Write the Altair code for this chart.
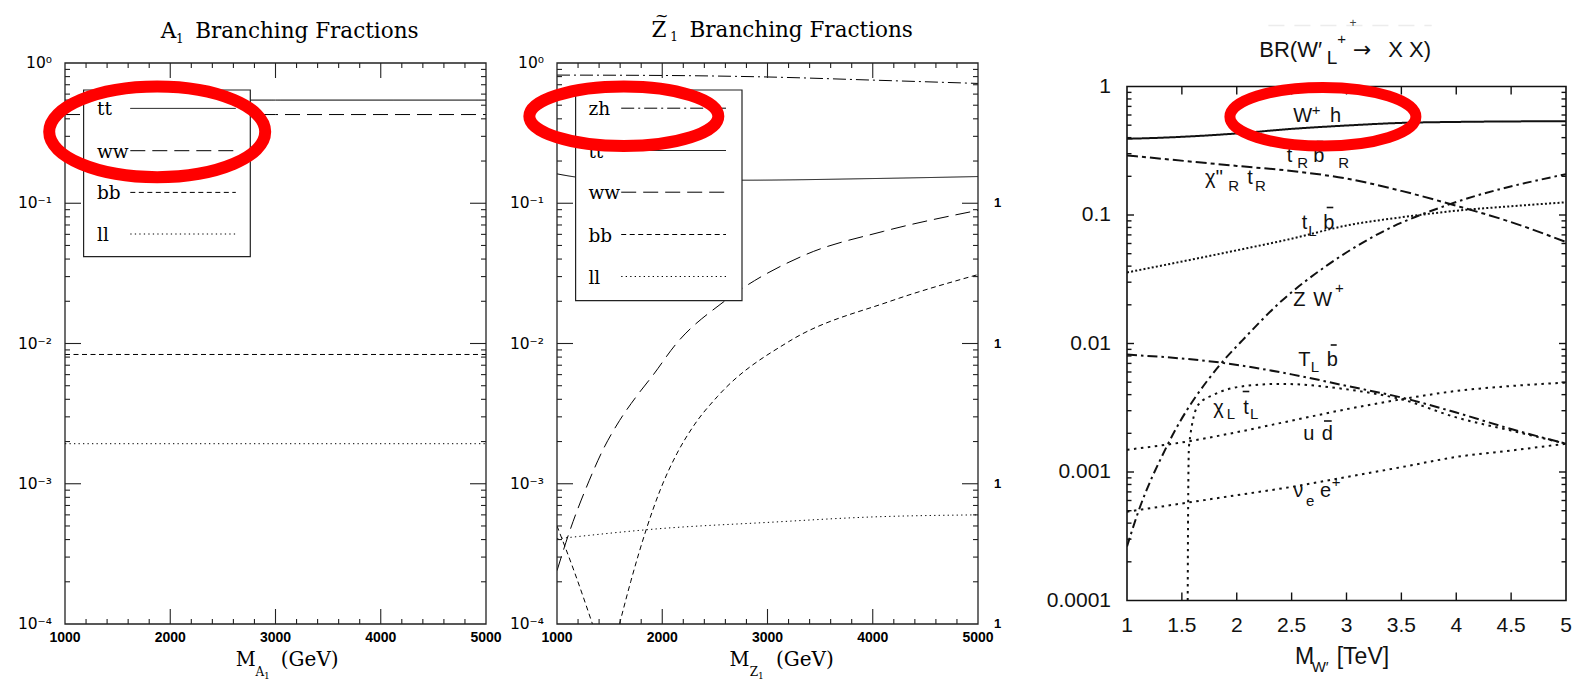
import altair as alt
import pandas as pd

# ---------------- values ----------------
# Panel 1 : A1 branching fractions (flat lines)
A1_MASS = [1000, 3000, 5000]
A1_TT = [0.544, 0.544, 0.544]
A1_WW = [0.429, 0.429, 0.429]
A1_BB = [0.00835, 0.00835, 0.00835]
A1_LL = [0.00193, 0.00193, 0.00193]

# Panel 2 : Z1 branching fractions
Z1_ZH_MASS = [1000, 2000, 3000, 4000, 5000]
Z1_ZH = [0.82, 0.815, 0.795, 0.755, 0.715]
Z1_TT_MASS = [1000, 1200, 1500, 2000, 2750, 4000, 5000]
Z1_TT = [0.162, 0.153, 0.148, 0.146, 0.146, 0.150, 0.155]
Z1_WW_MASS = [1000, 1112, 1305, 1434, 1594, 1755, 1916, 2125, 2590, 3362, 4100, 5000]
Z1_WW = [0.00024, 0.00044, 0.00105, 0.00173, 0.00282, 0.00420, 0.0060, 0.0098, 0.020, 0.043, 0.063, 0.089]
Z1_BB_LOW_MASS = [1000, 1170, 1337]
Z1_BB_LOW = [0.00050, 0.00023, 0.00010]
Z1_BB_HIGH_MASS = [1594, 1700, 1851, 1980, 2141, 2300, 2526, 3200, 4165, 5000]
Z1_BB_HIGH = [0.00010, 0.00020, 0.00048, 0.00090, 0.00165, 0.0026, 0.0042, 0.0103, 0.020, 0.031]
Z1_LL_MASS = [1000, 2000, 3000, 4000, 5000]
Z1_LL = [0.000405, 0.00048, 0.00053, 0.00058, 0.00060]

# Panel 3 : BR(W'_L+ -> X X), mass in TeV
W_WH_MASS = [1.0, 1.3, 2.0, 2.5, 3.0, 3.5, 4.0, 5.0]
W_WH = [0.392, 0.399, 0.431, 0.468, 0.497, 0.521, 0.530, 0.537]
W_CHIR_MASS = [1.0, 2.0, 2.5, 3.0, 3.5, 4.0, 4.5, 5.0]
W_CHIR = [0.291, 0.241, 0.220, 0.192, 0.154, 0.118, 0.088, 0.0616]
W_TLB_MASS = [1.0, 2.0, 2.5, 3.0, 3.5, 4.0, 4.5, 5.0]
W_TLB = [0.0357, 0.0531, 0.0654, 0.0828, 0.096, 0.108, 0.117, 0.1255]
W_ZW_MASS = [1.0, 1.098, 1.359, 1.864, 2.043, 2.402, 2.826, 3.38, 3.90, 5.0]
W_ZW = [0.000263, 0.000477, 0.00156, 0.0071, 0.0104, 0.0212, 0.0407, 0.078, 0.118, 0.208]
W_TLBIG_MASS = [1.0, 1.864, 2.5, 3.0, 3.5, 4.0, 4.5, 5.0]
W_TLBIG = [0.0082, 0.00708, 0.00575, 0.00468, 0.0038, 0.0029, 0.00216, 0.00166]
W_CHIL_MASS = [1.553, 1.557, 1.565, 1.652, 1.793, 2.076, 2.40, 3.0, 3.5, 4.0, 4.5, 5.0]
W_CHIL = [0.0001, 0.00054, 0.0016, 0.00336, 0.0040, 0.00467, 0.00485, 0.0044, 0.00368, 0.00266, 0.0021, 0.00166]
W_UD_MASS = [1.0, 1.5, 2.0, 2.5, 3.0, 3.5, 4.0, 4.5, 5.0]
W_UD = [0.00149, 0.00170, 0.00204, 0.00251, 0.00308, 0.00368, 0.00427, 0.00467, 0.00496]
W_NUE_MASS = [1.0, 1.5, 2.0, 2.5, 3.0, 3.5, 4.0, 4.5, 5.0]
W_NUE = [0.000491, 0.000569, 0.00066, 0.000766, 0.000915, 0.00109, 0.00131, 0.00147, 0.00166]

# tick values and tick labels
GEV_LABELS = [1000, 2000, 3000, 4000, 5000]
GEV_MAJOR = [2000, 3000, 4000]
GEV_MINOR = [v for v in range(1200, 5000, 200) if v % 1000 != 0]
DECADES = [1e-4, 1e-3, 1e-2, 1e-1, 1.0]
DECADE_POW_LABELS = ["10\u207b\u2074", "10\u207b\u00b3", "10\u207b\u00b2", "10\u207b\u00b9", "10\u2070"]
DECADE_DEC_LABELS = ["0.0001", "0.001", "0.01", "0.1", "1"]
DEC_MAJOR = [1e-3, 1e-2, 1e-1]
DEC_MINOR = [m * 10.0 ** k for k in range(-4, 0) for m in range(2, 10)]
TEV_LABELS = [1, 1.5, 2, 2.5, 3, 3.5, 4, 4.5, 5]
TEV_LABEL_TEXT = ["1", "1.5", "2", "2.5", "3", "3.5", "4", "4.5", "5"]
TEV_MAJOR = [1.5, 2, 2.5, 3, 3.5, 4, 4.5]

SERIF = "DejaVu Serif"
SANS = "Liberation Sans"
ONE = pd.DataFrame({"k": [0]})


def series_df(spec):
    rows = []
    for name, seg, xs, ys in spec:
        for x, y in zip(xs, ys):
            rows.append({"series": name, "seg": seg, "x": x, "y": y})
    return pd.DataFrame(rows)


def T(x, y, s, size, font, align="left", baseline="alphabetic", color="black", weight="normal"):
    return alt.Chart(ONE).mark_text(text=s, align=align, baseline=baseline, font=font,
                                    fontSize=size, fontWeight=weight, color=color).encode(
        x=alt.value(x), y=alt.value(y))


def rule_px(x, x2, y, y2, width=1.0, dash=None, color="black"):
    kw = dict(color=color, strokeWidth=width)
    if dash is not None:
        kw["strokeDash"] = dash
    return alt.Chart(ONE).mark_rule(**kw).encode(
        x=alt.value(x), x2=alt.value(x2), y=alt.value(y), y2=alt.value(y2))


def rect_px(x, x2, y, y2, fill="white", stroke="black", width=1.0, opacity=1.0):
    return alt.Chart(ONE).mark_rect(fill=fill, stroke=stroke, strokeWidth=width, opacity=opacity).encode(
        x=alt.value(x), x2=alt.value(x2), y=alt.value(y), y2=alt.value(y2))


def marker(x0, x1, y0):
    return alt.Chart(ONE).mark_rect(opacity=0).encode(
        x=alt.value(x0), x2=alt.value(x1), y=alt.value(y0), y2=alt.value(y0 + 1))


def tick_layers(xs, ys, W, y0, H, xmaj, xmin, ymaj, ymin, lmaj_x, lmin_x, lmaj_y, lmin_y, width, color):
    out = []
    for vals, L in ((xmaj, lmaj_x), (xmin, lmin_x)):
        if not vals or L <= 0:
            continue
        d = pd.DataFrame({"v": vals})
        ex = alt.X("v:Q", scale=xs, axis=None)
        out.append(alt.Chart(d).mark_rule(color=color, strokeWidth=width).encode(
            x=ex, y=alt.value(y0 + H), y2=alt.value(y0 + H - L)))
        out.append(alt.Chart(d).mark_rule(color=color, strokeWidth=width).encode(
            x=ex, y=alt.value(y0), y2=alt.value(y0 + L)))
    for vals, L in ((ymaj, lmaj_y), (ymin, lmin_y)):
        d = pd.DataFrame({"v": vals})
        ey = alt.Y("v:Q", scale=ys, axis=None)
        out.append(alt.Chart(d).mark_rule(color=color, strokeWidth=width).encode(
            y=ey, x=alt.value(0), x2=alt.value(L)))
        out.append(alt.Chart(d).mark_rule(color=color, strokeWidth=width).encode(
            y=ey, x=alt.value(W), x2=alt.value(W - L)))
    return out


def xlabels(values, texts, xs, y, font, size, weight, color):
    d = pd.DataFrame({"v": values, "t": texts})
    return alt.Chart(d).mark_text(align="center", baseline="top", font=font, fontSize=size,
                                  fontWeight=weight, color=color).encode(
        x=alt.X("v:Q", scale=xs, axis=None), y=alt.value(y), text="t:N")


def ylabels(values, texts, ys, x, font, size, weight, color, align="right"):
    d = pd.DataFrame({"v": values, "t": texts})
    return alt.Chart(d).mark_text(align=align, baseline="middle", font=font, fontSize=size,
                                  fontWeight=weight, color=color).encode(
        y=alt.Y("v:Q", scale=ys, axis=None), x=alt.value(x), text="t:N")


def ellipse(xv, yv, xs, ys, rx, ry, sw):
    r = ry / rx
    path = f"M -1 0 A 1 {r:.4f} 0 1 1 1 0 A 1 {r:.4f} 0 1 1 -1 0 Z"
    d = pd.DataFrame({"x": [xv], "y": [yv]})
    return alt.Chart(d).mark_point(shape=path, size=(2 * rx) ** 2, filled=False, color="#ff0000",
                                   stroke="#ff0000", strokeWidth=sw, opacity=1).encode(
        x=alt.X("x:Q", scale=xs, axis=None), y=alt.Y("y:Q", scale=ys, axis=None))


DASH12 = {"tt": [1, 0], "ww": [15, 7], "bb": [5, 3.5], "ll": [1.3, 3.2], "zh": [13, 4, 2, 4]}


def gev_panel(kind):
    W, H = 421, 561
    xs = alt.Scale(domain=[1000, 5000], nice=False, zero=False)
    ys = alt.Scale(type="log", domain=[1e-4, 1], nice=False)
    if kind == 1:
        spec = [("tt", 0, A1_MASS, A1_TT), ("ww", 0, A1_MASS, A1_WW),
                ("bb", 0, A1_MASS, A1_BB), ("ll", 0, A1_MASS, A1_LL)]
        names = ["tt", "ww", "bb", "ll"]
        left, right = -64.2, 440
    else:
        spec = [("zh", 0, Z1_ZH_MASS, Z1_ZH), ("tt", 0, Z1_TT_MASS, Z1_TT),
                ("ww", 0, Z1_WW_MASS, Z1_WW), ("bb", 0, Z1_BB_LOW_MASS, Z1_BB_LOW),
                ("bb", 1, Z1_BB_HIGH_MASS, Z1_BB_HIGH), ("ll", 0, Z1_LL_MASS, Z1_LL)]
        names = ["zh", "tt", "ww", "bb", "ll"]
        left, right = -51.6, 456
    df = series_df(spec)
    layers = [marker(left, right, -62.5)]
    layers.append(alt.Chart(df).mark_line(color="black", strokeWidth=1.0, clip=True,
                                          interpolate="monotone").encode(
        x=alt.X("x:Q", scale=xs, axis=None),
        y=alt.Y("y:Q", scale=ys, axis=None),
        strokeDash=alt.StrokeDash("series:N", scale=alt.Scale(domain=names, range=[DASH12[n] for n in names]),
                                  legend=None),
        detail="seg:N",
    ))
    layers += tick_layers(xs, ys, W, 0, H, GEV_MAJOR, GEV_MINOR, DEC_MAJOR, DEC_MINOR,
                          15, 5, 16, 5, 1.1, "#222")
    layers.append(rect_px(0, W, 0, H, fill=None, stroke="#222", width=1.3))
    layers.append(xlabels(GEV_LABELS, [str(v) for v in GEV_LABELS], xs, H + 7, SANS, 14, "bold", "black"))
    layers.append(ylabels(DECADES, DECADE_POW_LABELS, ys, -13, "DejaVu Sans", 15.5, "normal", "black"))
    # legend box
    if kind == 1:
        layers.append(rect_px(18.6, 185.3, 27, 193.7, fill="white", stroke="#222", width=1.2))
        rows = [45.4, 87.7, 129.4, 171.0]
        lx, s0, s1 = 32, 65.3, 170.8
    else:
        layers.append(rect_px(18.6, 185, 27, 237.7, fill="white", stroke="#222", width=1.2))
        rows = [45.2, 87.5, 129.2, 171.5, 213.5]
        lx, s0, s1 = 31.4, 64.2, 169
    for n, ry in zip(names, rows):
        layers.append(rule_px(s0, s1, ry, ry, width=1.0, dash=DASH12[n]))
        layers.append(T(lx, ry + 1, n, 18.5, SERIF, baseline="middle"))
    # titles
    if kind == 1:
        layers += [T(95.8, -25, "A", 21.5, SERIF), T(111, -20.5, "1", 12, SERIF),
                   T(130.2, -25, "Branching Fractions", 21.5, SERIF),
                   T(170.8, 602.5, "M", 19.5, SERIF), T(190.5, 613, "A", 12, SERIF),
                   T(199, 615.5, "1", 9, SERIF), T(215.8, 602.5, "(GeV)", 20, SERIF)]
        layers.append(ellipse(1876, 0.323, xs, ys, 108, 45.3, 12))
    else:
        layers += [T(94.6, -25.6, "Z", 21.5, SERIF), T(98, -47, "~", 16, SERIF, baseline="middle"),
                   T(113.2, -21.6, "1", 12, SERIF),
                   T(132.5, -25.6, "Branching Fractions", 21.5, SERIF),
                   T(172.4, 602.5, "M", 19.5, SERIF), T(192.7, 613, "Z", 12, SERIF),
                   T(201, 615.5, "1", 9, SERIF), T(219.0, 602.5, "(GeV)", 20, SERIF)]
        layers.append(ylabels(DECADES[:4], ["1", "1", "1", "1"], ys, W + 16, SANS, 13, "bold", "black",
                              align="left"))
        layers.append(ellipse(1635, 0.417, xs, ys, 94.5, 29.8, 12))
    return alt.layer(*layers).properties(width=W, height=H)


def tev_panel():
    W, H = 439, 514
    OFF = 23.5  # frame of this panel starts lower than the other two
    xs = alt.Scale(domain=[1, 5], nice=False, zero=False)
    ys = alt.Scale(type="log", domain=[1e-4, 1], nice=False, range=[OFF + H, OFF])
    spec = [("Wh", 0, W_WH_MASS, W_WH), ("chiR", 0, W_CHIR_MASS, W_CHIR),
            ("tLb", 0, W_TLB_MASS, W_TLB), ("ZW", 0, W_ZW_MASS, W_ZW),
            ("TLb", 0, W_TLBIG_MASS, W_TLBIG), ("chiL", 0, W_CHIL_MASS, W_CHIL),
            ("ud", 0, W_UD_MASS, W_UD), ("nue", 0, W_NUE_MASS, W_NUE)]
    names = ["Wh", "chiR", "tLb", "ZW", "TLb", "chiL", "ud", "nue"]
    dashes = [[1, 0], [11, 4, 4, 4], [2, 2.2], [9, 4, 2.5, 4], [10, 4, 2.5, 4],
              [2.5, 4.5], [2.5, 4.5], [2.5, 4.5]]
    df = series_df(spec)
    layers = [marker(-113.5, 447, -62.5)]
    # cropped remnant of a text line above the panel
    layers.append(rule_px(141.4, 304.7, -37.5, -37.5, width=1.5, dash=[16, 10], color="#ececec"))
    layers.append(T(226, -40.5, "+", 12, SANS, align="center", baseline="middle", color="#444"))
    layers.append(alt.Chart(df).mark_line(color="#111", strokeWidth=2.0, clip=True,
                                          interpolate="monotone").encode(
        x=alt.X("x:Q", scale=xs, axis=None),
        y=alt.Y("y:Q", scale=ys, axis=None),
        strokeDash=alt.StrokeDash("series:N", scale=alt.Scale(domain=names, range=dashes), legend=None),
        detail="seg:N",
    ))
    layers += tick_layers(xs, ys, W, OFF, H, TEV_MAJOR, [], DEC_MAJOR, DEC_MINOR,
                          8, 0, 7, 4.5, 1.4, "#111")
    layers.append(rect_px(0, W, OFF, OFF + H, fill=None, stroke="#111", width=1.6))
    layers.append(xlabels(TEV_LABELS, TEV_LABEL_TEXT, xs, OFF + H + 14, SANS, 21, "normal", "#111"))
    layers.append(ylabels(DECADES, DECADE_DEC_LABELS, ys, -16, SANS, 21, "normal", "#111"))
    F = 20
    S = 15
    pieces = [
        # title
        (132.3, -30, "BR(W\u2032", 22, SANS), (199.7, -22.7, "L", 19, SANS),
        (226, -30, "\u2192", 22, "DejaVu Sans"), (261.3, -30, "X X)", 22, SANS),
        # x-axis title
        (168, 577.3, "M", 23, SANS), (184.7, 585.7, "W\u2032", S, SANS), (209.7, 577.3, "[TeV]", 23, SANS),
        # annotations
        (166.3, 35.7, "W", F, SANS), (203, 35.7, "h", F, SANS),
        (159.7, 75.7, "t", F, SANS), (170.3, 81.3, "R", S, SANS), (186.3, 75.7, "b", F, SANS),
        (211.3, 81.3, "R", S, SANS),
        (78, 97.3, "\u03c7''", F, SANS), (101.3, 104, "R", S, SANS), (120.3, 97.3, "t", F, SANS),
        (128, 104, "R", S, SANS),
        (174.7, 142.3, "t", F, SANS), (181.3, 149, "L", S, SANS), (196.3, 142.3, "b", F, SANS),
        (166.3, 219, "Z", F, SANS), (186.3, 219, "W", F, SANS),
        (171.3, 279, "T", F, SANS), (183.7, 285.7, "L", S, SANS), (199.7, 279, "b", F, SANS),
        (86.3, 327.3, "\u03c7", F, SANS), (99.7, 332.3, "L", S, SANS), (116.3, 327.3, "t", F, SANS),
        (123, 332.3, "L", S, SANS),
        (176.3, 353.3, "u", F, SANS), (194.7, 353.3, "d", F, SANS),
        (166.3, 410.7, "\u03bd", F, SANS), (179, 419, "e", S, SANS), (193, 410.7, "e", F, SANS),
    ]
    for x, y, s, size, font in pieces:
        layers.append(T(x, y + OFF, s, size, font, color="#111"))
    sups = [(210.3, -47.7), (184.7, 23), (208, 201.3), (204.7, 395.7)]
    for x, y in sups:
        layers.append(T(x, y + OFF, "+", 15, SANS, baseline="middle", color="#111"))
    bars = [(189.7, 196.3, 55), (199.7, 206.3, 121), (203.7, 209.7, 258.5),
            (115.7, 122.3, 305), (197, 204.7, 334.5)]
    for x0, x1, y in bars:
        layers.append(rule_px(x0, x1, y + OFF, y + OFF, width=1.6, color="#111"))
    layers.append(ellipse(2.785, 0.581, xs, ys, 93, 29.3, 11))
    return alt.layer(*layers).properties(width=W, height=H + OFF)


chart = alt.hconcat(gev_panel(1), gev_panel(2), tev_panel(), spacing=0).resolve_scale(
    strokeDash="independent", x="independent", y="independent"
).properties(
    padding={"left": 0, "top": 0, "right": 0, "bottom": 0}
).configure_view(stroke=None)

chart.save("out.html", embed_options={"renderer": "svg", "actions": False})
